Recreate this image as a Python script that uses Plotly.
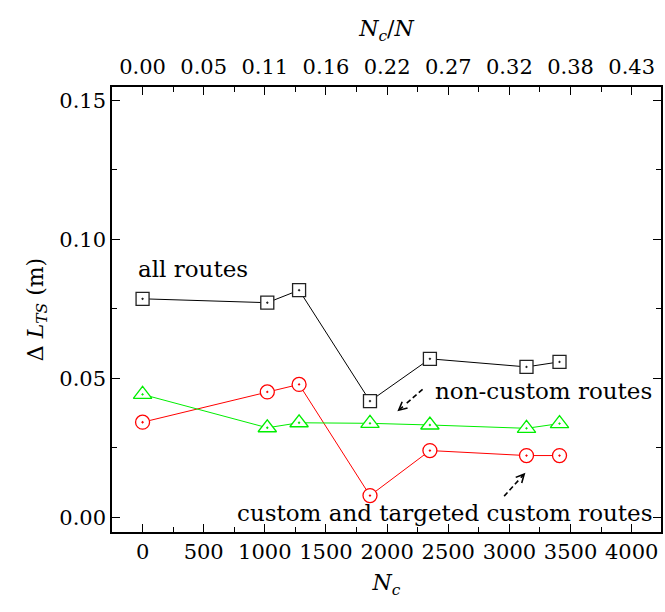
import plotly.graph_objects as go

# ---- data ----
nc = [0, 1020, 1280, 1860, 2350, 3140, 3410]
all_routes = [0.0786, 0.0772, 0.0817, 0.0418, 0.0570, 0.0541, 0.0559]
custom_routes = [0.0342, 0.0451, 0.0478, 0.0078, 0.0240, 0.0222, 0.0222]
noncustom_routes = [0.0442, 0.0322, 0.0340, 0.0338, 0.0332, 0.0320, 0.0337]

bottom_ticks = [0, 500, 1000, 1500, 2000, 2500, 3000, 3500, 4000]
top_tick_labels = ["0.00", "0.05", "0.11", "0.16", "0.22", "0.27", "0.32", "0.38", "0.43"]
y_ticks = [0.00, 0.05, 0.10, 0.15]

label_all = "all routes"
label_non = "non-custom routes"
label_cus = "custom and targeted custom routes"
label_all_pos = (-55, 0.0895)
label_non_pos = (2375, 0.0456)
label_cus_pos = (760, 0.0017)

arrow_non = [(2290, 0.0460), (2084, 0.0381)]   # tail, head
arrow_cus = [(2957, 0.0076), (3131, 0.0160)]

FONT = "DejaVu Serif"

fig = go.Figure()

fig.add_trace(go.Scatter(x=nc, y=all_routes, mode="lines+markers",
                         line=dict(color="black", width=1),
                         marker=dict(symbol="square-dot", size=13, color="white",
                                     line=dict(color="#222222", width=1.3)),
                         showlegend=False))
fig.add_trace(go.Scatter(x=nc, y=custom_routes, mode="lines+markers",
                         line=dict(color="#ff0000", width=1),
                         marker=dict(symbol="circle-dot", size=14, color="white",
                                     line=dict(color="#ff0000", width=1.3)),
                         showlegend=False))
fig.add_trace(go.Scatter(x=nc, y=noncustom_routes, mode="lines+markers",
                         line=dict(color="#00ee00", width=1),
                         marker=dict(symbol="triangle-up-dot", size=16, color="white",
                                     line=dict(color="#00ee00", width=1.3)),
                         showlegend=False))

# invisible trace so the top axis is drawn
fig.add_trace(go.Scatter(x=[nc[0]], y=[all_routes[0]], xaxis="x2", mode="markers",
                         marker=dict(opacity=0), showlegend=False, hoverinfo="skip"))

for (tail, head) in (arrow_non, arrow_cus):
    mid = (tail[0] + 0.72 * (head[0] - tail[0]), tail[1] + 0.72 * (head[1] - tail[1]))
    fig.add_trace(go.Scatter(x=[tail[0], mid[0]], y=[tail[1], mid[1]], mode="lines",
                             line=dict(color="black", width=1.6, dash="5px,3px"),
                             showlegend=False, hoverinfo="skip"))
    fig.add_annotation(x=head[0], y=head[1], ax=mid[0], ay=mid[1], axref="x", ayref="y",
                       xref="x", yref="y", showarrow=True, arrowhead=5, arrowsize=1,
                       arrowwidth=1.6, arrowcolor="black", text="")

for txt, pos in ((label_all, label_all_pos), (label_non, label_non_pos), (label_cus, label_cus_pos)):
    fig.add_annotation(x=pos[0], y=pos[1], xref="x", yref="y", text=txt, showarrow=False,
                       xanchor="left", yanchor="middle",
                       font=dict(family=FONT, size=23, color="black"))

tickfont = dict(family=FONT, size=21, color="black")
titlefont = dict(family=FONT, size=22, color="black")

fig.update_layout(
    width=665, height=612,
    margin=dict(l=112, r=2, t=87, b=80),
    paper_bgcolor="white", plot_bgcolor="white",
    xaxis=dict(range=[-250, 4240], tickmode="array", tickvals=bottom_ticks,
               ticks="inside", ticklen=8, tickwidth=1.2, tickcolor="black",
               minor=dict(tickmode="linear", tick0=0, dtick=250, ticks="inside",
                          ticklen=5, tickwidth=1.2, tickcolor="black"),
               showline=True, linecolor="black", linewidth=1.5, mirror=False,
               showgrid=False, zeroline=False, tickfont=tickfont,
               title=dict(text="<i>N</i><sub><i>c</i></sub>", font=titlefont, standoff=12)),
    xaxis2=dict(range=[-250, 4240], overlaying="x", side="top", matches="x",
                tickmode="array", tickvals=bottom_ticks, ticktext=top_tick_labels,
                ticks="inside", ticklen=8, tickwidth=1.2, tickcolor="black",
                minor=dict(tickmode="linear", tick0=0, dtick=250, ticks="inside",
                           ticklen=5, tickwidth=1.2, tickcolor="black"),
                showline=True, linecolor="black", linewidth=1.5, ticklabelstandoff=3,
                showgrid=False, zeroline=False, tickfont=tickfont,
                title=dict(text="<i>N</i><sub><i>c</i></sub>/<i>N</i>", font=titlefont, standoff=12)),
    yaxis=dict(range=[-0.0053, 0.1548], tickmode="array", tickvals=y_ticks,
               ticktext=["%.2f" % v for v in y_ticks],
               ticks="inside", ticklen=8, tickwidth=1.2, tickcolor="black",
               minor=dict(tickmode="linear", tick0=0, dtick=0.025, ticks="inside",
                          ticklen=5, tickwidth=1.2, tickcolor="black"),
               showline=True, linecolor="black", linewidth=1.5, mirror="ticks",
               showgrid=False, zeroline=False, tickfont=tickfont,
               title=dict(text="Δ <i>L</i><sub><i>TS</i></sub> (m)", font=titlefont, standoff=10)),
)

fig.write_html("out.html", config={"displayModeBar": False},
               post_script="document.body.style.margin='0';document.body.style.overflow='hidden';")
